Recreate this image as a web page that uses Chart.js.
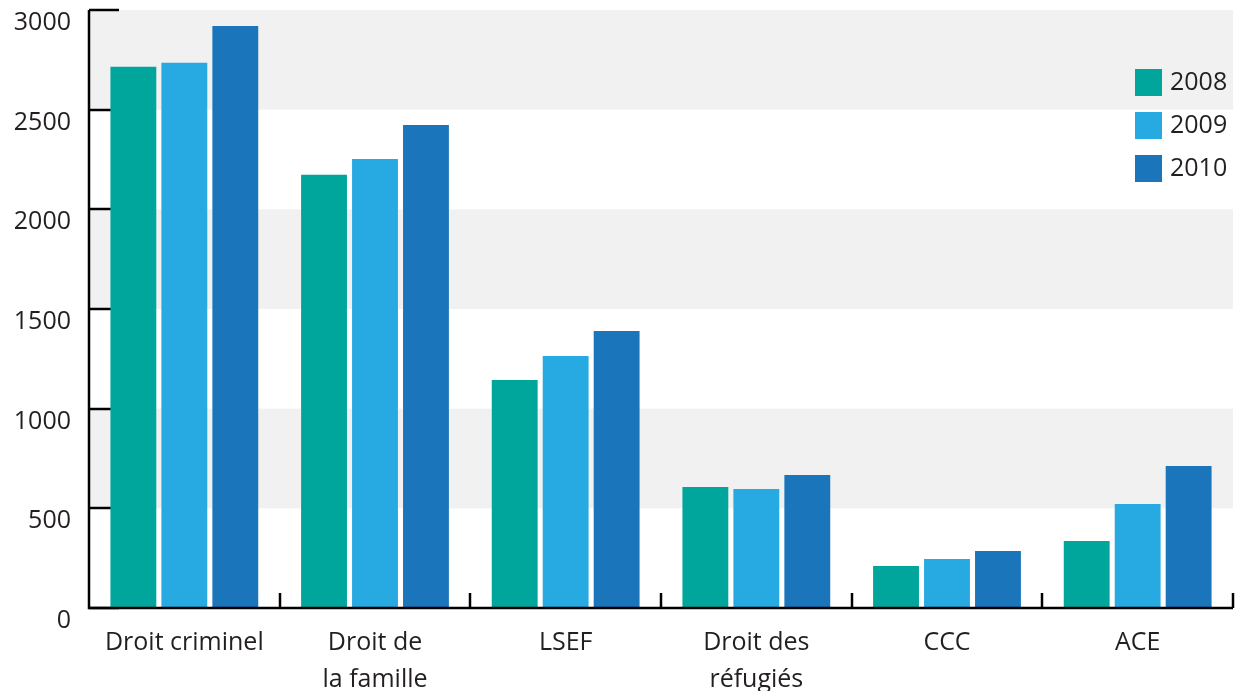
<!DOCTYPE html>
<html>
<head>
<meta charset="utf-8">
<script src="https://cdn.jsdelivr.net/npm/chart.js@4"></script>
<style>
  html,body{margin:0;padding:0;background:#fff;}
  #wrap{width:1237px;height:691px;position:relative;}
</style>
</head>
<body>
<div id="wrap"><canvas id="c"></canvas></div>
<script>
const categories = [['Droit criminel'], ['Droit de','la famille'], ['LSEF'], ['Droit des','réfugiés'], ['CCC'], ['ACE']];
const years = ['2008', '2009', '2010'];
const v2008 = [2715, 2173, 1144, 607, 211, 336];
const v2009 = [2735, 2253, 1264, 597, 246, 522];
const v2010 = [2920, 2423, 1390, 667, 286, 712];
const yTicks = [0, 500, 1000, 1500, 2000, 2500, 3000];
const colors = ['#00a69c', '#27a9e1', '#1b75bb'];

const FONT = '"Open Sans", sans-serif';
const INK = '#231f20';

// grey bands + inward ticks, under the bars
const backdrop = {
  id:'backdrop',
  beforeDatasetsDraw(chart){
    const {ctx, chartArea:a, scales:{y}} = chart;
    ctx.save();
    ctx.fillStyle = '#f1f1f1';
    for(let i = 1; i + 1 < yTicks.length; i += 2){
      const t = y.getPixelForValue(yTicks[i+1]);
      const b = y.getPixelForValue(yTicks[i]);
      ctx.fillRect(a.left, t, a.right - a.left, b - t);
    }
    ctx.strokeStyle = '#000';
    ctx.lineWidth = 2.5;
    yTicks.forEach(v => {
      const p = Math.round(y.getPixelForValue(v));
      ctx.beginPath(); ctx.moveTo(a.left, p); ctx.lineTo(a.left + 30, p); ctx.stroke();
    });
    ctx.restore();
  },
  afterDatasetsDraw(chart){
    const {ctx, chartArea:a} = chart;
    ctx.save();
    ctx.strokeStyle = '#000';
    ctx.lineWidth = 2.5;
    // axis lines
    ctx.beginPath();
    ctx.moveTo(a.left, a.top); ctx.lineTo(a.left, a.bottom); ctx.lineTo(a.right, a.bottom);
    ctx.stroke();
    // category separators, pointing up
    const n = categories.length;
    for(let i = 1; i <= n; i++){
      const p = Math.round(a.left + (a.right - a.left) * i / n);
      ctx.beginPath(); ctx.moveTo(p, a.bottom); ctx.lineTo(p, a.bottom - 15); ctx.stroke();
    }
    // legend
    ctx.font = '25px ' + FONT;
    ctx.textBaseline = 'middle';
    chart.data.datasets.forEach((ds, i) => {
      const cy = 82 + i * 43;
      ctx.fillStyle = ds.backgroundColor;
      ctx.fillRect(1135, cy - 13, 27, 27);
      ctx.fillStyle = INK;
      ctx.fillText(ds.label, 1170, cy + 1);
    });
    ctx.restore();
  }
};

new Chart(document.getElementById('c'), {
  type:'bar',
  data:{
    labels: categories,
    datasets:[
      { label:years[0], data:v2008, backgroundColor:colors[0] },
      { label:years[1], data:v2009, backgroundColor:colors[1] },
      { label:years[2], data:v2010, backgroundColor:colors[2] }
    ]
  },
  options:{
    responsive:true, maintainAspectRatio:false, animation:false,
    layout:{ padding:{ top:10, right:4, left:0, bottom:0 } },
    datasets:{ bar:{ categoryPercentage:0.802, barPercentage:0.9 } },
    scales:{
      x:{
        grid:{ display:false, drawTicks:false },
        border:{ display:false },
        ticks:{ color:INK, font:{ family:FONT, size:25, lineHeight:1.45 }, padding:17, maxRotation:0 },
        afterFit(s){ s.height = 83; s.paddingLeft = 0; s.paddingRight = 0; }
      },
      y:{
        min:0, max:3000,
        afterBuildTicks(s){ s.ticks = yTicks.map(v => ({ value:v })); },
        grid:{ display:false, drawTicks:false },
        border:{ display:false },
        ticks:{ color:INK, font:{ family:FONT, size:25 }, padding:18, labelOffset:13, callback:v => String(v) },
        afterFit(s){ s.width = 89; s.paddingTop = 0; s.paddingBottom = 0; }
      }
    },
    plugins:{ legend:{ display:false }, tooltip:{ enabled:false } }
  },
  plugins:[backdrop]
});
</script>
</body>
</html>
